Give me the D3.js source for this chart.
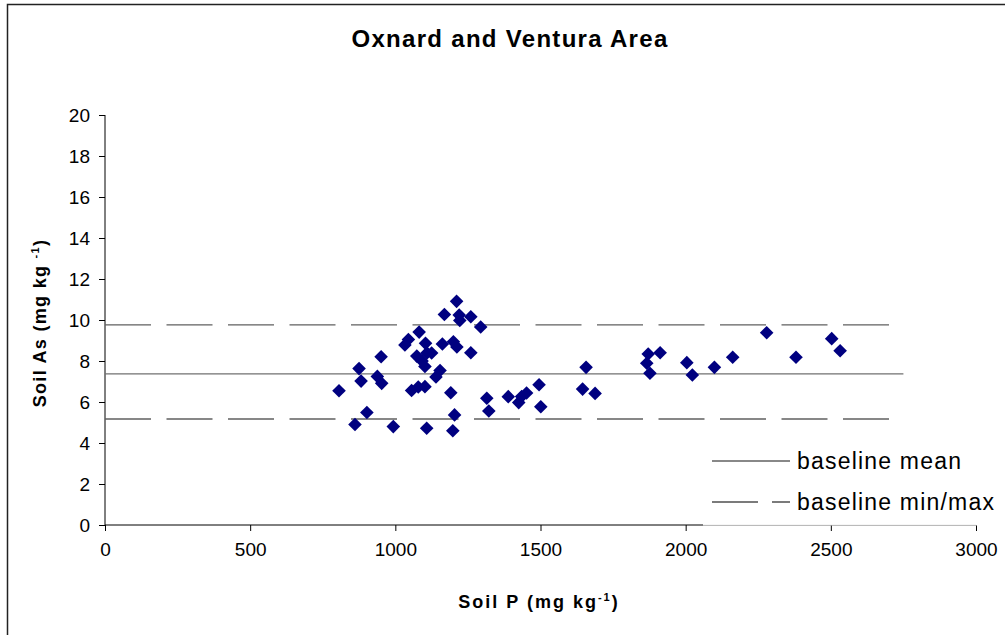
<!DOCTYPE html>
<html><head><meta charset="utf-8">
<script src="https://cdn.jsdelivr.net/npm/d3@7"></script>
<style>body{margin:0;background:#fff;}svg{display:block;font-family:Arial,"Liberation Sans",sans-serif;}</style>
</head><body>
<svg id="chart" width="1005" height="635"></svg>
<script>
const title = "Oxnard and Ventura Area";
const xTicks = [0, 500, 1000, 1500, 2000, 2500, 3000];
const yTicks = [0, 2, 4, 6, 8, 10, 12, 14, 16, 18, 20];
const soilP = [806, 875, 882, 951, 938, 953, 902, 861, 993, 1033, 1045, 1082, 1104, 1074, 1092, 1109, 1125, 1102,
  1169, 1162, 1200, 1212, 1260, 1154, 1140, 1056, 1079, 1102, 1191, 1108, 1198, 1204, 1211, 1220, 1222, 1260, 1294,
  1315, 1322, 1389, 1425, 1435, 1452, 1495, 1501, 1657, 1645, 1688, 1871, 1912, 1866, 1877, 2004, 2023, 2099, 2162,
  2279, 2380, 2503, 2532];
const soilAs = [6.55, 7.63, 7.02, 8.21, 7.25, 6.91, 5.49, 4.90, 4.80, 8.78, 9.05, 9.41, 8.86, 8.24, 8.0, 8.39, 8.39, 7.73,
  10.27, 8.83, 8.94, 8.68, 8.40, 7.54, 7.22, 6.56, 6.73, 6.75, 6.45, 4.72, 4.60, 5.37, 10.91, 10.24, 9.98, 10.16, 9.66,
  6.18, 5.56, 6.26, 5.97, 6.27, 6.44, 6.84, 5.77, 7.69, 6.63, 6.42, 8.34, 8.40, 7.89, 7.40, 7.92, 7.32, 7.69, 8.18,
  9.38, 8.18, 9.09, 8.50];
const baselineMean = 7.37;
const baselineMin = 5.17;
const baselineMax = 9.76;
const baselineRange = [0, 2750];
const legendLabels = ["baseline mean", "baseline min/max"];

const svg = d3.select("#chart");
const x = d3.scaleLinear().domain([0, 3000]).range([105, 976]);
const y = d3.scaleLinear().domain([0, 20]).range([525, 115]);

// outer border
svg.append("path").attr("d", "M7.5,635 L7.5,4.5 L1005,4.5").attr("fill", "none").attr("stroke", "#222").attr("stroke-width", 1.5);

// title
svg.append("text").attr("x", 510).attr("y", 47).attr("text-anchor", "middle")
  .attr("font-size", 24).attr("font-weight", "bold").attr("letter-spacing", 1.3).text(title);

// axes
const yAxis = svg.append("g").attr("transform", "translate(105,0)")
  .call(d3.axisLeft(y).tickValues(yTicks).tickFormat(d3.format("d")).tickSize(6).tickPadding(9));
const xAxis = svg.append("g").attr("transform", "translate(0,525)")
  .call(d3.axisBottom(x).tickValues(xTicks).tickFormat(d3.format("d")).tickSize(6).tickPadding(12));
[yAxis, xAxis].forEach(g => {
  g.selectAll("path").attr("stroke", "#000").attr("stroke-width", 1);
  g.selectAll("line").attr("stroke", "#000");
  g.selectAll("text").attr("font-size", 19).attr("fill", "#000").attr("font-family", "Arial, 'Liberation Sans', sans-serif");
});
xAxis.selectAll("path").attr("d", `M${x(0)},0H${x(3000)}`);
yAxis.selectAll("path").attr("d", `M0,${y(0)}V${y(20)}`);

// baseline lines
const lineG = svg.append("g");
lineG.append("line").attr("x1", x(baselineRange[0])).attr("x2", x(baselineRange[1]))
  .attr("y1", y(baselineMean)).attr("y2", y(baselineMean)).attr("stroke", "#707070").attr("stroke-width", 1.3);
[baselineMin, baselineMax].forEach(v => {
  lineG.append("line").attr("x1", x(baselineRange[0])).attr("x2", x(baselineRange[1]))
    .attr("y1", y(v)).attr("y2", y(v)).attr("stroke", "#606060").attr("stroke-width", 1.3)
    .attr("stroke-dasharray", "46,15.5");
});

// points
const diamond = "M0,-6.8L6.8,0L0,6.8L-6.8,0Z";
svg.append("g").selectAll("path").data(soilP.map((p, i) => [p, soilAs[i]])).join("path")
  .attr("d", diamond).attr("transform", d => `translate(${x(d[0])},${y(d[1])})`)
  .attr("fill", "#000080");

// legend
const lg = svg.append("g");
lg.append("rect").attr("x", 703).attr("y", 440).attr("width", 302).attr("height", 85.5).attr("fill", "#fff").attr("fill-opacity", 0.93);
lg.append("line").attr("x1", 712).attr("x2", 790).attr("y1", 461).attr("y2", 461).attr("stroke", "#606060").attr("stroke-width", 1.3);
lg.append("line").attr("x1", 712).attr("x2", 790).attr("y1", 502).attr("y2", 502).attr("stroke", "#505050").attr("stroke-width", 1.3).attr("stroke-dasharray", "46,14");
legendLabels.forEach((t, i) => {
  lg.append("text").attr("x", 797).attr("y", 469 + i * 41).attr("font-size", 23).attr("letter-spacing", 1.2).text(t);
});

// axis titles
const xt = svg.append("text").attr("x", 539).attr("y", 608).attr("text-anchor", "middle")
  .attr("font-size", 18).attr("font-weight", "bold").attr("letter-spacing", 2);
xt.append("tspan").text("Soil P (mg kg");
xt.append("tspan").attr("font-size", 11).attr("dy", -7).text("-1");
xt.append("tspan").attr("dy", 7).text(")");

const yt = svg.append("text").attr("transform", "translate(46,323) rotate(-90)").attr("text-anchor", "middle")
  .attr("font-size", 18).attr("font-weight", "bold").attr("letter-spacing", 1.3);
yt.append("tspan").text("Soil As (mg kg ");
yt.append("tspan").attr("font-size", 11).attr("dy", -7).text("-1");
yt.append("tspan").attr("dy", 7).text(")");
</script>
</body></html>
